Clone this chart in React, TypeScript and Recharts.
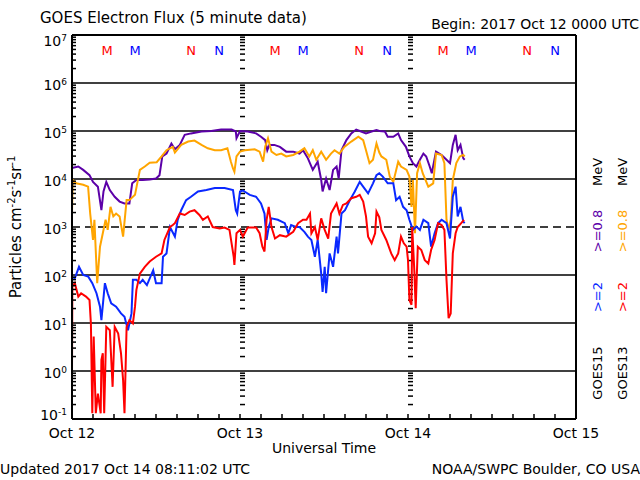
import React from 'react'
import { LineChart, Line, XAxis, YAxis, ReferenceLine, ReferenceDot } from 'recharts'

const FONT = '"DejaVu Sans", Verdana, sans-serif'

// time axis: hours since 2017 Oct 12 0000 UTC; values: log10 of flux
const g15LowHours = [0, 0.9, 1.6, 2.5, 3, 3.7, 4.2, 4.5, 4.9, 5.4, 6.1, 6.8, 7.5, 8.2, 8.6, 9.2, 10.1, 11.1, 12, 12.5, 12.9, 13.5, 14.2, 14.7, 15.4, 16.1, 17, 18.5, 19.9, 21.3, 22.8, 23.4, 23.5, 24, 25.1, 26.3, 27, 27.6, 27.9, 28.2, 28.9, 29.7, 30.6, 31.6, 32.5, 33, 33.7, 34.4, 35.1, 35.6, 35.8, 36.3, 36.8, 37.3, 37.8, 38.1, 38.5, 39.2, 39.9, 40.6, 41.3, 42, 42.8, 43.5, 43.9, 44.7, 45.1, 45.9, 46.6, 47, 47.7, 48.2, 48.7, 49.2, 49.7, 50.2, 50.6, 51.1, 51.4, 52, 52.8, 53.5, 54, 54.4, 54.8, 55.1, 55.5, 55.9, 56.1]
const g15LowFlux = [4.23, 4.26, 4.19, 4.08, 3.94, 3.84, 3.35, 3.74, 3.94, 3.77, 3.63, 3.53, 3.49, 3.49, 3.91, 3.98, 3.98, 3.99, 4.01, 4.08, 4.47, 4.53, 4.74, 4.62, 4.71, 4.92, 4.95, 4.99, 5.0, 5.03, 5.03, 4.99, 4.85, 5.0, 4.99, 4.95, 4.88, 4.81, 4.6, 4.71, 4.71, 4.67, 4.57, 4.57, 4.53, 4.6, 4.43, 4.19, 4.36, 3.98, 3.74, 4.01, 3.77, 4.19, 4.26, 4.01, 4.6, 4.81, 4.95, 5.03, 4.99, 4.95, 4.99, 5.02, 5.0, 4.99, 4.88, 4.88, 4.95, 4.81, 4.67, 4.47, 4.33, 4.26, 4.4, 4.53, 4.47, 4.26, 4.12, 4.57, 4.5, 4.4, 4.33, 4.71, 4.92, 4.6, 4.71, 4.43, 4.4]

const g13LowHours = [0, 0.1, 0.6, 1.6, 2.3, 2.6, 3, 3.2, 3.6, 4, 4.4, 4.8, 5.1, 5.5, 5.9, 6.3, 6.8, 7.3, 7.8, 8.2, 9, 9.7, 10.4, 11.1, 12.1, 12.8, 13.5, 14.4, 14.7, 15.6, 16.6, 17.5, 18.5, 19.4, 20.4, 21.3, 22.2, 22.7, 23, 23.2, 23.5, 24, 24.7, 26.1, 26.8, 27.3, 27.6, 28, 28.5, 29.2, 29.9, 30.6, 31.6, 32.5, 33.2, 33.9, 34.4, 34.9, 35.6, 36.3, 37, 37.5, 38.2, 38.9, 39.9, 40.9, 41.6, 42, 42.5, 43, 43.5, 43.9, 44.2, 44.9, 45.4, 45.9, 46.6, 47, 47.8, 48.2, 48.5, 48.7, 49, 49.3, 49.7, 50.1, 50.9, 51.6, 52, 52.8, 53.2, 53.5, 53.8, 54.1, 54.4, 54.9, 55.4, 55.9, 56.1]
const g13LowFlux = [3.29, 3.98, 3.91, 3.88, 3.84, 3.28, 2.73, 3.15, 1.83, 2.59, 2.87, 3.15, 2.94, 3.42, 3.22, 3.28, 3.22, 2.8, 3.56, 3.56, 3.67, 4.19, 4.26, 4.34, 4.35, 4.47, 4.6, 4.67, 4.55, 4.71, 4.78, 4.8, 4.71, 4.64, 4.6, 4.6, 4.64, 4.36, 4.22, 4.15, 4.47, 4.57, 4.6, 4.62, 4.57, 4.36, 4.67, 4.85, 4.57, 4.5, 4.53, 4.47, 4.5, 4.57, 4.64, 4.47, 4.6, 4.4, 4.57, 4.4, 4.53, 4.6, 4.53, 4.67, 4.78, 4.88, 4.81, 4.6, 4.33, 4.4, 4.74, 4.55, 4.47, 4.4, 4.05, 3.94, 4.36, 4.26, 4.19, 4.05, 3.42, 3.98, 2.87, 4.12, 4.33, 4.12, 3.84, 3.91, 4.53, 4.5, 4.33, 3.15, 2.94, 3.15, 3.98, 4.33, 4.47, 4.5, 4.47]

const g15HighHours = [0, 0.4, 1, 1.6, 2.3, 2.9, 3.5, 4, 4.2, 4.7, 5.1, 5.6, 6.3, 7, 7.5, 8, 8.5, 8.7, 9.2, 9.7, 10.1, 10.7, 11.6, 12, 12.8, 13, 13.5, 14, 14.7, 15.1, 15.6, 16.3, 17, 18, 19.2, 20.4, 21.8, 23, 23.4, 23.6, 24, 24.4, 25.4, 26.3, 27, 27.5, 27.8, 28.1, 28.5, 29.4, 30.4, 30.9, 31.3, 32, 32.5, 33.2, 33.7, 34.2, 34.7, 35.1, 35.6, 35.8, 36.1, 36.3, 36.8, 37.3, 37.8, 38, 38.5, 39, 39.7, 40.4, 41.1, 41.8, 42.3, 43, 43.5, 43.9, 44.4, 45.1, 45.9, 46.3, 46.8, 47.3, 47.8, 48.2, 48.7, 49.2, 49.7, 50.2, 50.9, 51.3, 51.8, 52.3, 52.8, 53.5, 54, 54.4, 54.8, 55.1, 55.5, 55.9, 56.1]
const g15HighFlux = [1.96, 1.93, 2.17, 2.0, 1.97, 1.83, 1.62, 1.34, 1.06, 1.83, 1.62, 1.41, 1.34, 1.2, 1.13, 0.85, 1.2, 1.9, 1.9, 1.83, 1.9, 1.79, 2.1, 1.83, 1.83, 2.38, 2.45, 3.0, 2.8, 3.15, 3.35, 3.56, 3.63, 3.74, 3.77, 3.81, 3.81, 3.77, 3.35, 3.28, 3.74, 3.76, 3.67, 3.63, 3.49, 3.28, 2.73, 3.0, 3.18, 3.15, 3.08, 2.87, 3.04, 3.0, 3.0, 2.9, 2.8, 2.73, 2.38, 2.73, 2.03, 1.65, 2.17, 1.62, 2.45, 2.17, 2.8, 2.45, 3.28, 3.35, 3.56, 3.74, 3.94, 3.8, 3.7, 3.91, 4.08, 4.12, 4.05, 3.91, 3.91, 3.56, 3.63, 3.42, 3.35, 3.15, 2.94, 3.01, 2.94, 3.15, 3.08, 2.59, 2.87, 3.08, 3.15, 3.08, 2.76, 3.63, 3.84, 3.22, 3.42, 3.11, 3.08]

const g13HighHours = [0, 0.05, 0.4, 0.9, 1.3, 2, 2.5, 2.7, 2.9, 3.1, 3.4, 3.7, 4.1, 4.2, 4.4, 4.6, 4.9, 5.4, 5.8, 6.1, 6.6, 7, 7.3, 7.5, 7.8, 8.2, 8.7, 9, 9.2, 9.7, 10.4, 11.1, 12, 12.8, 13.2, 14, 14.4, 14.7, 15.4, 16.1, 16.8, 17.5, 18.2, 18.7, 19.4, 20.1, 21.1, 21.8, 22.5, 22.8, 23.1, 23.2, 23.5, 24, 24.4, 25.1, 26.3, 26.8, 27.2, 27.5, 27.8, 28.1, 28.5, 29, 29.7, 30.6, 31.6, 32.3, 33, 33.5, 34, 34.2, 34.7, 35.1, 35.6, 36.1, 36.6, 37, 37.8, 38.2, 38.7, 39.2, 39.9, 40.6, 41.1, 41.6, 42, 42.3, 42.8, 43.3, 43.5, 43.9, 44.2, 44.9, 45.6, 46.1, 46.6, 47, 47.4, 47.8, 48, 48.2, 48.5, 48.6, 48.9, 49.1, 49.4, 49.9, 50.4, 50.9, 51.3, 51.8, 52.3, 52.8, 53.2, 53.5, 53.8, 54.1, 54.4, 54.8, 55.1, 55.6, 56]
const g13HighFlux = [-0.05, 1.76, 1.83, 1.55, 1.62, 1.55, 1.48, 0.99, -0.88, 0.72, -0.88, -0.47, -0.88, 0.23, 0.37, -0.88, 0.92, 0.85, -0.33, 0.92, 0.78, 0.37, -0.19, -0.88, 0.92, 1.06, 0.99, 1.34, 1.69, 2.03, 2.17, 2.28, 2.38, 2.45, 2.73, 3.0, 3.04, 3.08, 3.28, 3.25, 3.32, 3.35, 3.25, 3.15, 3.22, 3.0, 2.97, 2.99, 2.94, 2.66, 2.38, 2.21, 2.87, 2.94, 2.8, 2.99, 2.99, 2.87, 2.59, 2.49, 3.15, 3.42, 3.0, 2.76, 2.83, 2.8, 2.9, 3.08, 3.15, 3.15, 3.28, 2.87, 3.0, 2.73, 3.18, 2.94, 2.76, 3.28, 3.49, 3.28, 3.46, 3.49, 3.6, 3.63, 3.67, 3.53, 3.22, 2.8, 2.66, 2.87, 3.32, 3.2, 2.94, 2.73, 2.45, 2.31, 2.45, 2.8, 2.66, 2.59, 2.31, 1.48, 1.38, 3.0, 2.1, 1.31, 2.59, 2.52, 2.31, 2.24, 2.52, 2.73, 3.08, 3.04, 2.94, 1.9, 1.1, 1.2, 2.45, 2.87, 3.0, 3.08, 3.15]

const dayLabels = ['Oct 12', 'Oct 13', 'Oct 14', 'Oct 15']
const localMidnightRed = [5, 29, 53]
const localMidnightBlue = [9, 33, 57]
const localNoonRed = [17, 41, 65]
const localNoonBlue = [21, 45, 69]

const hourTicks = Array.from({ length: 25 }, (_, i) => i * 3)
const decades = [-1, 0, 1, 2, 3, 4, 5, 6]
const minorTicks = decades.flatMap((d) => [2, 3, 4, 5, 6, 7, 8, 9].map((k) => d + Math.log10(k)))
const yTicks = [...decades, 7, ...minorTicks].sort((a, b) => a - b)

const toPoints = (hours: number[], flux: number[]) => hours.map((h, i) => ({ h, v: flux[i] }))

const isMajor = (v: number) => Math.abs(v - Math.round(v)) < 1e-6

function LeftTick({ x, y, payload }: any) {
  const v = payload.value
  if (isMajor(v)) {
    const e = Math.round(v)
    // end labels are nudged inside the frame, as in the original
    const shift = e === 7 ? 4 : e === -1 ? -6 : 0
    return (
      <text x={x - 5} y={y + 7 + shift} textAnchor="end" fontFamily={FONT} fontSize={14} fill="#000">
        10<tspan dy={-5} fontSize={9}>{e}</tspan>
      </text>
    )
  }
  return <line x1={x} y1={y} x2={x + 4} y2={y} stroke="#000" strokeWidth={1.5} />
}

function RightTick({ x, y, payload }: any) {
  if (isMajor(payload.value)) return null
  return <line x1={x} y1={y} x2={x - 4} y2={y} stroke="#000" strokeWidth={1.5} />
}

function BottomTick({ x, y, payload }: any) {
  const v = payload.value
  return (
    <g>
      <line x1={x} y1={y} x2={x} y2={y - 5} stroke="#000" strokeWidth={1.5} />
      {v % 24 === 0 && (
        <text x={x} y={y + 19} textAnchor="middle" fontFamily={FONT} fontSize={14} fill="#000">
          {dayLabels[v / 24]}
        </text>
      )}
    </g>
  )
}

function TopTick({ x, y }: any) {
  return <line x1={x} y1={y} x2={x} y2={y + 4} stroke="#000" strokeWidth={1.5} />
}

// minor log ticks drawn along the day boundaries
function DayTicks(props: any) {
  const { x1, y1, y2 } = props
  const top = Math.min(y1, y2)
  const bottom = Math.max(y1, y2)
  return (
    <g>
      {minorTicks.map((v) => {
        const y = bottom - ((v + 1) / 8) * (bottom - top)
        return <line key={v} x1={x1} x2={x1 + 5} y1={y} y2={y} stroke="#000" strokeWidth={1.5} />
      })}
    </g>
  )
}

const marker = (label: string, color: string) => (p: any) => (
  <text x={p.cx} y={p.cy + 5} textAnchor="middle" fontFamily={FONT} fontSize={13} fill={color}>
    {label}
  </text>
)

function Legend({ x, goes, lowColor, highColor }: any) {
  const t = (y: number, s: string, c: string) => (
    <text x={x} y={y} transform={`rotate(-90 ${x} ${y})`} textAnchor="middle" fontFamily={FONT} fontSize={13} fill={c}>
      {s}
    </text>
  )
  return (
    <g>
      {t(373, goes, '#000')}
      {t(297, '>=2', highColor)}
      {t(231, '>=0.8', lowColor)}
      {t(172, 'MeV', '#000')}
    </g>
  )
}

export default function App() {
  return (
    <div style={{ position: 'absolute', left: 0, top: 0, width: 640, height: 480, background: '#fff' }}>
      <LineChart width={640} height={480} margin={{ top: 0, right: 0, bottom: 0, left: 0 }}>
        <XAxis
          dataKey="h"
          type="number"
          domain={[0, 72]}
          ticks={hourTicks}
          interval={0}
          height={61}
          tickSize={0}
          tickMargin={0}
          tick={<BottomTick />}
          axisLine={{ stroke: '#000', strokeWidth: 2 }}
        />
        <XAxis
          xAxisId="top"
          orientation="top"
          type="number"
          domain={[0, 72]}
          ticks={hourTicks}
          interval={0}
          height={35}
          tickSize={0}
          tickMargin={0}
          tick={<TopTick />}
          axisLine={{ stroke: '#000', strokeWidth: 2 }}
        />
        <YAxis
          type="number"
          domain={[-1, 7]}
          ticks={yTicks}
          interval={0}
          width={72}
          tickSize={0}
          tickMargin={0}
          tick={<LeftTick />}
          axisLine={{ stroke: '#000', strokeWidth: 2 }}
        />
        <YAxis
          yAxisId="right"
          orientation="right"
          type="number"
          domain={[-1, 7]}
          ticks={yTicks}
          interval={0}
          width={64}
          tickSize={0}
          tickMargin={0}
          tick={<RightTick />}
          axisLine={{ stroke: '#000', strokeWidth: 2 }}
        />
        {[0, 1, 2, 4, 5, 6].map((d) => (
          <ReferenceLine key={d} y={d} stroke="#000" strokeWidth={1.5} />
        ))}
        <ReferenceLine y={3} stroke="#000" strokeWidth={1.5} strokeDasharray="8 5" />
        {[24, 48].map((d) => (
          <ReferenceLine key={'day' + d} x={d} stroke="none" shape={<DayTicks />} />
        ))}
        {localMidnightRed.map((h) => (
          <ReferenceDot key={'mr' + h} x={h} y={6.69} shape={marker('M', '#ff0000')} />
        ))}
        {localMidnightBlue.map((h) => (
          <ReferenceDot key={'mb' + h} x={h} y={6.69} shape={marker('M', '#0000ff')} />
        ))}
        {localNoonRed.map((h) => (
          <ReferenceDot key={'nr' + h} x={h} y={6.69} shape={marker('N', '#ff0000')} />
        ))}
        {localNoonBlue.map((h) => (
          <ReferenceDot key={'nb' + h} x={h} y={6.69} shape={marker('N', '#0000ff')} />
        ))}
        <Line data={toPoints(g15LowHours, g15LowFlux)} dataKey="v" stroke="#5c00a8" strokeWidth={2} dot={false} isAnimationActive={false} type="linear" />
        <Line data={toPoints(g13LowHours, g13LowFlux)} dataKey="v" stroke="#ffa500" strokeWidth={2} dot={false} isAnimationActive={false} type="linear" />
        <Line data={toPoints(g15HighHours, g15HighFlux)} dataKey="v" stroke="#0a28ff" strokeWidth={2} dot={false} isAnimationActive={false} type="linear" />
        <Line data={toPoints(g13HighHours, g13HighFlux)} dataKey="v" stroke="#ff0000" strokeWidth={2} dot={false} isAnimationActive={false} type="linear" />
      </LineChart>
      <svg width={640} height={480} style={{ position: 'absolute', left: 0, top: 0, pointerEvents: 'none' }}>
        <text x={40} y={23} fontFamily={FONT} fontSize={15} fill="#000">GOES Electron Flux (5 minute data)</text>
        <text x={639} y={29} textAnchor="end" fontFamily={FONT} fontSize={14} fill="#000">Begin: 2017 Oct 12 0000 UTC</text>
        <text x={21} y={227} transform="rotate(-90 21 227)" textAnchor="middle" fontFamily={FONT} fontSize={15} fill="#000">
          Particles cm<tspan dy={-6} fontSize={10}>-2</tspan>
          <tspan dy={6}>s</tspan>
          <tspan dy={-6} fontSize={10}>-1</tspan>
          <tspan dy={6}>sr</tspan>
          <tspan dy={-6} fontSize={10}>-1</tspan>
        </text>
        <Legend x={602} goes="GOES15" lowColor="#5c00a8" highColor="#0a28ff" />
        <Legend x={627} goes="GOES13" lowColor="#ffa500" highColor="#ff0000" />
        <text x={324} y={453} textAnchor="middle" fontFamily={FONT} fontSize={14} fill="#000">Universal Time</text>
        <text x={0} y={474} fontFamily={FONT} fontSize={14} fill="#000">Updated 2017 Oct 14 08:11:02 UTC</text>
        <text x={640} y={474} textAnchor="end" fontFamily={FONT} fontSize={14} fill="#000">NOAA/SWPC Boulder, CO USA</text>
      </svg>
    </div>
  )
}
